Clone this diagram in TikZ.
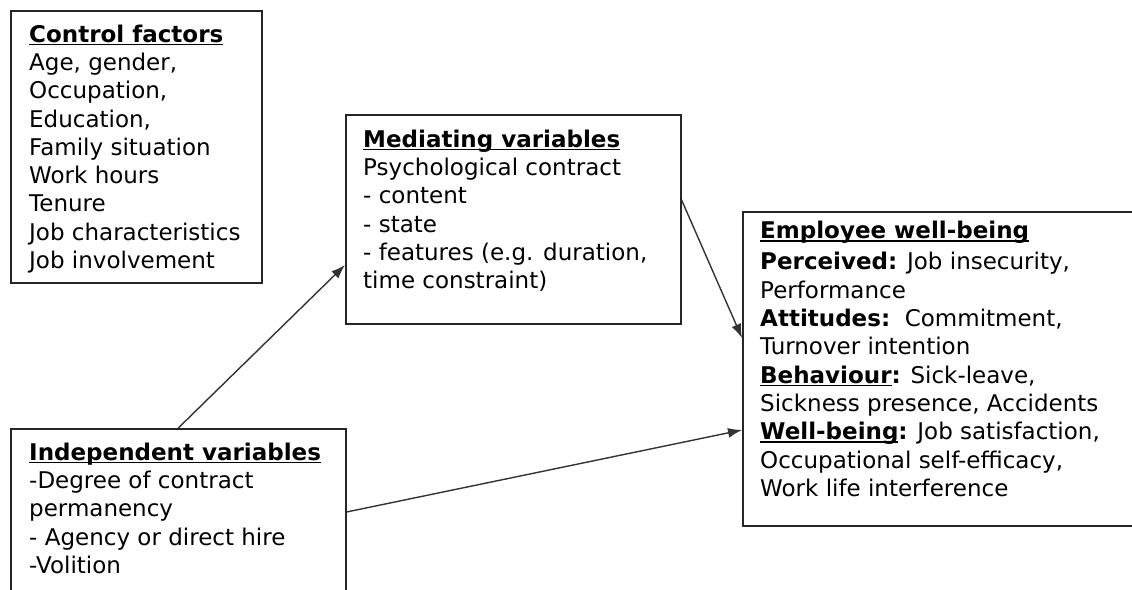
\documentclass[tikz,border=0pt]{standalone}
\usepackage{fontspec}
\setmainfont{DejaVu Sans}
\usetikzlibrary{arrows.meta, calc, positioning}

% underline that runs through the descenders, as in the figure
\newcommand{\ulin}[1]{\setbox0\hbox{#1}\rlap{\rule[-3.2pt]{\wd0}{1.6pt}}\box0}

\begin{document}
\begin{tikzpicture}[x=1pt, y=-1pt,
    box/.style={draw=black!85, line width=1.6pt, anchor=north west, inner sep=0pt},
    txt/.style={anchor=north west, inner sep=0pt, align=left,
                font={\fontsize{23pt}{28.3pt}\selectfont}},
    link/.style={draw=black!80, line width=1.4pt, -{Latex[length=14pt,width=10pt]}}]
        \useasboundingbox (0,0) rectangle (1132,589);

        % --- LEFT: CONTROL FACTORS ---
        \node[box, minimum width=251pt, minimum height=272pt] (ctrl) at (10,10) {};
        \node[txt] (ctrltxt) at (29,24.5)
            {\ulin{\textbf{Control factors}}\\ Age, gender,\\ Occupation,\\ Education,\\
             Family situation\\ Work hours\\ Tenure\\ Job characteristics\\ Job involvement};

        % --- MIDDLE: MEDIATING VARIABLES ---
        \node[box, minimum width=335pt, minimum height=209pt] (med) at (345,114) {};
        \node[txt] (medtxt) at (363,129.5)
            {\ulin{\textbf{Mediating variables}}\\ Psychological contract\\ - content\\ - state\\
             - features (e.g. duration,\\ time constraint)};

        % --- RIGHT: EMPLOYEE WELL-BEING ---
        \node[box, minimum width=400pt, minimum height=314pt] (emp) at (742,211) {};
        \node[txt] (emptxt) at (760,221)
            {\ulin{\textbf{Employee well-being}}\\[3pt]
             \textbf{Perceived:} Job insecurity,\\ Performance\\
             \textbf{Attitudes:}\ \ Commitment,\\ Turnover intention\\
             \ulin{\textbf{Behaviour}}\textbf{:} Sick-leave,\\ Sickness presence, Accidents\\
             \ulin{\textbf{Well-being}}\textbf{:} Job satisfaction,\\ Occupational self-efficacy,\\
             Work life interference};

        % --- BOTTOM LEFT: INDEPENDENT VARIABLES ---
        \node[box, minimum width=335pt, minimum height=180pt] (indep) at (10,428) {};
        \node[txt] (indeptxt) at (29,442.5)
            {\ulin{\textbf{Independent variables}}\\ -Degree of contract\\ permanency\\
             - Agency or direct hire\\ -Volition};

        % Draw connections
        \draw[link] (indep.north) -- ($(med.north west)+(0,151)$);
        \draw[link] ($(med.north east)+(0,86)$) -- ($(emp.north west)+(0,127)$);
        \draw[link] ($(indep.north east)+(0,84)$) -- ($(emp.north west)+(0,219)$);
    \end{tikzpicture}
\end{document}
